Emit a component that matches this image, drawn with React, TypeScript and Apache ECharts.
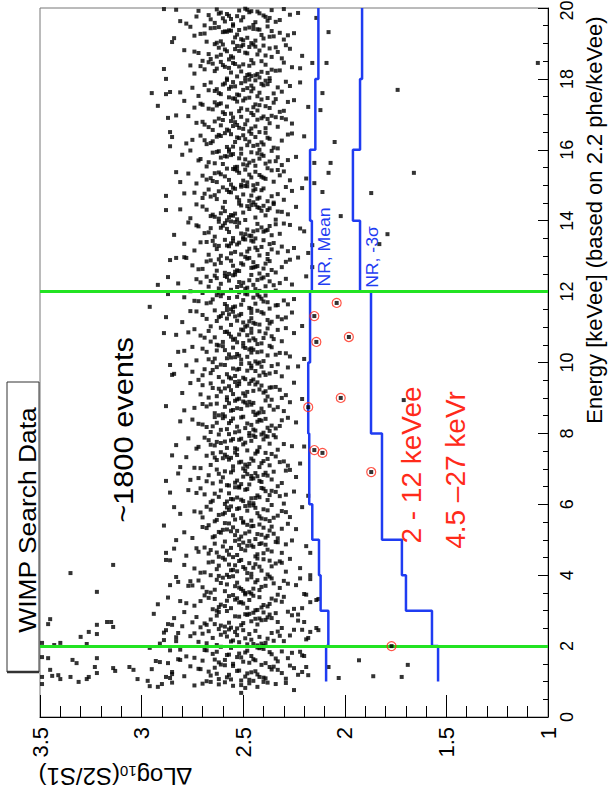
import React, { useEffect, useRef } from 'react';
import * as echarts from 'echarts';

const FONT = '"Liberation Sans", Arial, Helvetica, sans-serif';
const BLUE = '#1f3cf2';
const RED = '#ff2a1a';
const GREEN = '#22e322';

// Dense band of events, in 0.5 keVee slices.
// Each slice: flat pairs [ΔLog10(S2/S1) x100, energy offset inside the slice x100 keVee]
const coreSliceStart = [
  1, 1.5, 2, 2.5, 3, 3.5, 4, 4.5, 5, 5.5, 6, 6.5, 7, 7.5, 8, 8.5, 9, 9.5, 10, 10.5,
  11, 11.5, 12, 12.5, 13, 13.5, 14, 14.5, 15, 15.5, 16, 16.5, 17, 17.5, 18, 18.5, 19, 19.5,
];
const coreSliceEvents = [
  [251,3,237,41,266,17,244,29,229,8,272,36,258,12,241,47,263,22,247,5,233,33,255,44,268,1,246,26,225,38,279,15,252,31,239,9,261,48,243,20,285,27,256,6,235,42,249,14,271,35,231,24,259,46,245,2,264,39,218,18,253,30,240,11,276,43,248,23,262,7,236,34,257,19,227,45,267,28,242,13],
  [262,4,248,37,234,15,257,26,243,46,270,9,226,31,253,19,239,2,281,40,246,22,259,11,231,35,265,28,250,6,242,44,274,17,237,33,255,0,221,24,261,48,245,13,268,38,233,7,252,29,240,42,278,21,247,3,263,34,228,16,256,45,244,10,236,27,269,39,251,18,291,5,241,47,258,25,249,32,264,12],
  [245,6,259,39,238,21,272,12,250,45,227,30,263,3,242,26,255,16,233,41,268,8,247,34,219,19,257,47,240,1,276,28,252,11,236,37,265,23,244,43,230,14,261,32,248,5,283,25,254,40,239,9,270,35,246,18,225,46,258,27,243,2,267,42,235,15,253,31,249,22,262,48,241,7,274,36,256,13,232,29],
  [256,2,242,28,269,14,234,43,251,9,263,36,246,20,228,47,259,5,238,31,275,17,249,40,243,11,266,25,231,1,254,34,240,45,261,8,223,22,248,38,271,3,236,29,257,16,245,44,264,12,252,33,239,24,280,6,247,41,233,18,258,49,244,27,268,10,226,37,253,0,241,23,262,46,250,15,273,32,237,39],
  [248,8,264,33,237,19,255,44,243,2,271,27,230,39,259,13,246,48,251,24,225,5,267,36,240,16,257,41,234,29,262,10,249,46,278,21,244,1,253,35,238,12,269,43,231,25,256,7,242,38,261,17,247,30,220,47,265,4,252,23,236,34,274,14,245,42,258,28,241,9,287,37,250,20,233,45,263,0,254,31],
  [259,5,244,30,270,16,236,41,251,11,228,26,263,37,247,2,255,47,239,20,276,33,242,8,260,43,232,14,253,29,248,38,266,1,224,22,257,45,241,17,272,35,250,6,235,27,262,48,245,12,282,31,239,40,254,19,268,3,230,34,258,24,246,44,264,9,243,36,252,15,237,46,275,21,249,0,261,28,217,39],
  [246,4,262,27,240,45,255,15,231,35,269,8,250,23,237,41,258,1,244,31,274,19,227,46,253,11,265,38,242,24,248,6,234,33,260,49,256,14,279,29,238,2,251,43,245,21,267,36,229,10,257,30,243,47,263,17,236,25,252,40,271,7,247,34,222,20,259,44,241,13,254,28,266,0,232,39,249,18,286,42],
  [253,7,239,36,266,21,247,46,231,13,260,31,244,3,273,26,250,42,236,17,257,8,242,38,269,28,226,48,255,1,248,33,263,14,234,44,251,24,278,5,241,40,258,19,245,30,267,11,229,37,254,47,238,22,262,2,246,34,272,16,233,43,256,27,243,9,264,39,249,20,219,32,259,45,240,12,284,25,252,35],
  [244,2,258,29,235,17,267,41,251,9,240,34,262,22,228,45,254,13,246,38,275,5,237,26,259,47,249,18,231,31,265,7,242,43,256,24,270,36,238,11,252,1,245,39,261,20,224,30,257,46,241,14,268,33,233,4,253,25,248,42,264,10,236,37,279,21,250,48,243,16,260,28,289,40,239,6,255,35,247,23],
  [263,6,248,32,233,18,256,44,241,10,271,27,252,39,237,3,260,22,245,47,227,14,266,35,250,1,243,25,258,41,235,12,274,30,249,45,239,8,262,20,253,37,229,28,246,4,268,43,242,16,257,34,236,48,281,23,251,11,244,40,264,2,231,31,255,19,247,46,270,13,240,36,259,26,221,42,254,7,238,33],
  [250,9,236,38,262,21,245,3,273,32,241,46,256,15,229,27,266,6,248,43,253,19,234,35,259,1,243,25,277,40,238,12,264,30,252,47,246,17,225,36,258,8,269,28,240,44,255,14,232,23,261,39,247,5,286,33,244,18,254,48,237,26,265,10,249,41,230,2,257,31,242,20,271,45,251,13,239,37,218,24],
  [257,3,243,29,268,15,235,42,251,7,262,36,246,22,227,47,254,11,240,33,276,19,249,44,233,1,260,26,244,38,265,9,238,31,253,17,229,45,258,4,248,35,272,24,241,13,256,40,236,20,263,48,247,6,250,28,282,37,242,16,259,43,231,10,267,32,245,23,252,0,239,39,261,14,224,27,255,46,246,30],
  [242,5,258,34,232,19,265,44,249,12,238,28,271,2,253,39,245,23,261,47,228,9,256,31,241,16,268,37,250,1,236,42,263,25,247,14,278,33,243,48,255,7,230,21,259,40,246,29,266,11,239,45,252,18,274,3,234,35,257,26,244,43,222,15,260,30,248,6,285,38,240,22,254,46,237,10,264,32,251,20],
  [254,8,240,33,266,18,247,43,233,4,259,27,244,40,272,12,251,35,237,21,262,47,226,14,256,30,243,1,269,38,249,24,235,45,258,9,246,29,264,16,239,42,253,5,277,36,230,20,257,48,242,11,267,31,248,2,234,39,261,23,245,44,220,13,255,34,250,19,273,7,238,41,263,26,241,47,283,17,252,32],
  [247,1,263,30,238,16,255,42,244,8,270,25,231,37,258,12,250,47,236,22,266,4,243,33,253,19,228,44,261,10,248,28,275,39,240,2,256,35,234,14,264,46,246,24,252,6,239,41,268,18,224,31,259,48,245,11,272,27,242,38,254,3,232,21,260,43,249,15,281,34,237,7,257,29,251,45,265,20,241,36],
  [260,4,246,31,235,17,253,46,242,9,268,26,250,40,230,13,257,35,244,2,274,22,239,43,255,16,248,29,264,7,227,38,252,48,241,20,270,33,245,11,258,44,233,24,262,1,249,37,237,28,279,15,254,42,243,6,266,32,251,19,221,47,259,25,247,39,240,10,263,34,236,45,256,14,288,27,245,36,253,21],
  [249,6,236,30,261,18,243,44,255,11,270,36,232,23,258,2,247,40,240,15,265,28,252,47,229,8,257,33,245,20,276,42,238,4,262,26,250,13,244,38,267,1,234,31,254,45,248,17,259,27,225,43,271,10,241,35,256,22,246,48,263,5,237,29,252,39,280,14,242,24,260,46,231,0,253,34,239,19,266,41],
  [256,5,241,38,270,14,248,27,233,45,262,9,252,32,237,19,259,43,245,2,275,24,228,36,254,12,243,47,265,29,250,7,236,40,258,17,246,34,272,1,240,22,261,44,231,11,253,30,247,48,266,20,223,39,257,8,244,26,278,42,239,15,255,33,249,3,263,37,234,23,251,46,242,13,269,31,284,18,246,41],
  [244,3,259,35,238,20,267,9,250,45,232,27,256,14,246,40,273,6,241,31,262,48,227,17,253,24,247,37,265,1,236,43,258,12,243,29,270,39,251,8,234,22,260,46,248,16,279,33,240,4,255,42,229,26,264,11,245,36,252,19,237,47,268,30,242,0,257,23,249,41,220,10,263,34,246,28,275,44,254,15],
  [253,7,239,32,264,21,246,45,231,10,258,37,243,2,271,26,250,41,235,16,261,48,247,12,225,33,256,23,241,4,267,39,252,29,238,46,260,8,245,18,277,35,233,42,255,14,248,27,263,0,242,38,269,20,229,47,257,31,250,5,236,24,274,44,244,13,259,36,240,19,266,9,251,43,283,28,246,34,254,17],
  [248,4,262,28,236,15,255,43,244,9,270,34,231,22,258,48,250,13,240,38,266,2,246,25,226,41,253,18,261,31,242,7,276,45,238,20,257,36,249,1,233,29,264,47,245,12,252,33,268,23,241,42,256,6,229,27,260,39,247,16,273,44,237,10,254,30,243,46,263,17,251,37,221,3,258,24,246,40,280,14],
  [255,6,241,30,268,17,249,44,234,11,261,37,246,1,274,24,252,48,238,20,258,9,243,41,265,28,228,14,253,35,247,4,270,46,240,22,257,32,233,12,263,40,250,26,237,2,260,45,244,16,279,34,230,25,254,8,248,42,266,19,242,36,256,0,225,29,262,47,251,13,239,39,272,23,245,33,259,15,287,43],
  [242,2,257,31,235,18,264,45,249,8,271,26,240,40,253,13,229,36,261,22,246,47,256,5,237,29,268,42,251,16,243,33,276,1,232,24,259,44,248,11,263,38,226,20,254,48,244,7,266,30,239,15,258,41,250,25,273,35,234,3,255,46,245,19,262,9,241,37,252,27,219,43,267,14,247,32,282,23,238,47],
  [259,3,245,33,270,14,238,42,252,8,264,27,247,45,231,19,256,37,242,1,275,24,249,48,236,11,261,31,244,20,227,40,254,6,268,35,240,15,258,44,250,26,234,4,266,38,246,17,279,47,253,10,239,29,262,41,243,22,257,0,229,34,272,13,248,43,255,23,237,36,263,9,251,30,223,46,245,18,286,39],
  [251,5,237,34,263,20,246,44,254,12,231,27,268,40,242,2,258,30,249,47,274,16,235,37,256,8,244,24,265,43,228,14,253,33,240,45,261,1,247,21,271,39,233,10,257,28,250,48,243,17,279,35,238,6,255,42,225,23,264,31,248,13,259,46,241,26,267,4,252,38,236,19,262,29,245,41,218,9,256,36],
  [246,7,260,36,239,22,254,46,232,13,266,29,250,3,243,41,257,18,272,34,236,9,262,47,248,25,227,38,255,1,241,31,269,15,252,44,245,20,264,5,234,40,258,27,249,12,277,45,238,24,253,33,244,0,267,17,230,42,261,30,247,8,256,48,240,19,273,37,251,14,222,28,259,43,243,23,284,10,237,35],
  [253,4,238,30,265,17,244,45,257,10,231,25,270,40,249,2,242,36,261,21,235,47,255,14,247,33,276,7,240,42,259,27,228,18,252,48,264,11,243,38,250,23,234,3,268,31,246,44,256,16,224,39,262,6,241,28,273,46,254,20,237,35,258,1,248,41,266,13,233,26,251,43,281,32,244,9,260,37,239,15],
  [247,6,262,33,236,19,255,43,243,12,269,26,251,46,230,9,258,37,245,2,274,29,240,41,253,16,226,34,264,22,249,48,238,5,257,31,244,39,270,14,233,25,260,44,252,8,241,36,266,18,248,47,279,27,235,1,254,40,246,21,263,11,229,45,256,30,242,15,267,38,250,24,221,42,259,3,245,35,288,20],
  [256,2,242,29,268,16,249,44,235,10,262,36,246,22,273,5,253,41,239,18,258,47,232,28,265,12,244,38,251,1,277,33,241,24,255,46,227,14,261,31,248,8,236,42,266,20,252,35,243,4,270,27,238,48,257,15,230,39,263,9,247,30,254,45,240,21,283,37,250,13,233,43,259,25,245,0,264,34,219,19],
  [244,5,259,32,237,17,265,42,250,9,241,37,271,24,254,1,233,29,262,46,247,14,256,35,228,21,268,3,243,40,252,26,276,48,239,11,258,31,245,19,263,44,231,7,255,38,249,23,267,15,236,47,253,2,240,33,272,20,246,43,260,10,224,30,251,39,242,25,264,12,257,45,234,18,280,36,248,6,261,28],
  [251,3,238,34,266,19,246,45,255,9,231,26,271,40,243,14,259,47,249,30,235,6,263,37,241,21,257,1,228,43,268,16,252,33,245,11,275,28,239,48,254,22,233,4,261,39,248,13,244,36,265,24,226,46,258,8,250,41,278,18,237,31,256,44,242,0,269,27,253,35,240,15,262,42,247,23,220,38,286,10],
  [258,7,243,35,269,21,236,46,252,12,264,30,247,2,231,40,255,17,240,44,273,26,250,9,238,37,261,19,245,48,226,24,257,4,248,33,267,14,234,42,254,28,242,0,262,38,249,22,277,45,239,11,256,31,244,16,229,36,265,6,251,43,237,25,260,34,246,10,283,47,253,20,241,39,270,29,233,15,255,41],
  [246,4,261,31,237,18,254,44,243,11,270,27,250,39,232,7,258,22,247,47,265,14,228,35,256,2,241,42,263,25,252,9,235,33,274,19,249,45,244,28,259,1,225,40,267,16,253,36,239,23,257,48,248,13,271,30,234,43,260,6,245,20,279,38,242,26,255,45,230,10,264,34,251,17,238,46,262,29,218,21],
  [253,6,240,32,264,16,249,43,235,9,259,37,245,23,272,2,244,46,256,28,231,14,266,40,250,19,238,35,261,7,247,48,275,25,242,11,255,41,227,30,263,21,252,4,237,44,269,33,246,15,258,47,233,26,251,38,281,12,243,1,260,34,248,24,239,45,267,18,254,29,229,42,262,10,241,36,257,22,246,31],
  [249,3,263,29,238,17,255,45,244,10,271,36,232,24,258,1,250,41,241,20,267,47,247,13,226,33,253,7,260,39,236,26,274,15,245,44,257,31,242,4,264,22,230,46,252,35,248,11,269,27,239,40,256,18,222,30,261,48,246,8,276,38,234,23,254,42,243,14,259,34,251,21,237,2,265,43,289,28,247,37],
  [257,5,242,30,267,20,250,46,236,12,262,38,246,3,274,27,253,43,239,16,259,33,231,8,264,48,248,22,244,41,256,14,227,35,270,1,252,29,240,44,261,18,234,39,255,10,279,31,245,47,249,24,237,36,266,6,251,42,243,19,258,28,229,45,263,13,247,40,272,23,241,0,254,34,233,26,260,47,221,15],
  [244,8,259,34,237,19,266,43,251,12,242,39,271,27,255,3,232,30,262,46,248,16,257,37,228,23,268,5,245,41,253,25,276,47,240,14,260,32,246,1,264,44,235,20,256,36,250,9,269,28,238,48,254,17,243,40,274,22,230,11,258,33,247,45,263,2,225,29,252,38,241,24,284,15,249,42,261,6,236,35],
  [255,4,240,29,266,18,248,45,234,11,261,37,245,2,273,26,252,43,238,14,258,33,230,47,264,8,250,24,243,40,256,19,227,31,269,1,247,38,259,12,236,44,253,27,278,6,242,35,260,21,249,48,232,16,267,30,246,41,255,0,239,25,263,46,251,15,223,36,257,28,244,10,272,42,237,22,262,34,283,45],
];

// Sparse events, [ΔLog10(S2/S1), energy keVee]
const lowEnergyCoreEvents = [
  [2.47,0.95],[2.62,0.92],[2.38,0.97],[2.55,0.88],[2.29,0.96],[2.70,0.94],[2.51,0.90],[2.43,0.85],[2.59,0.98],[2.34,0.93],
  [2.66,0.99],[2.49,0.82],[2.85,0.97],[2.74,0.89],[2.40,0.99],
  [2.88,1.13],[2.21,1.27],[2.19,1.41],[2.93,1.58],[2.20,1.72],[2.86,1.88],[2.23,1.19],[2.82,1.63],[2.95,1.35],[2.22,1.84],
  [2.91,2.07],[2.18,2.23],[2.21,2.46],[2.87,2.62],[2.84,2.79],[2.94,2.91],[2.20,2.68],[2.83,2.14],[2.89,2.38],[2.23,2.89],
  [2.92,3.18],[2.19,3.45],[2.86,3.72],[2.22,3.91],[2.81,3.27],
];

const lowEnergyLeftEvents = [
  [3.35,4.06],[3.14,4.29],[3.22,3.53],[3.45,2.76],[3.46,2.62],[3.30,2.26],[3.26,2.40],[3.22,2.60],[3.17,2.68],[3.15,2.68],
  [3.14,2.54],[3.22,2.34],[3.40,2.09],[3.27,2.06],[3.43,2.03],[3.49,2.09],[2.96,1.95],[3.49,1.69],[3.46,1.66],[3.34,1.61],
  [3.32,1.52],[3.22,1.66],[3.23,1.41],[3.22,1.24],[3.45,1.33],[3.44,1.16],[3.41,1.18],[3.40,1.07],[3.35,1.13],[3.49,1.13],
  [3.49,0.93],[3.31,0.99],[3.27,1.07],[3.26,1.13],[3.14,1.38],[3.13,1.30],[3.06,1.41],[3.04,1.33],[3.02,1.07],[2.97,1.02],
  [2.92,0.85],[2.90,0.93],[2.96,0.87],[2.88,2.45],[2.89,2.17],[2.83,3.95],[2.82,2.37],[2.87,1.52],[2.85,1.21],[2.86,1.10],
  [2.81,1.61],[2.79,2.96],[2.77,3.70],[2.85,2.60],[2.51,0.68],[2.25,0.76],
];

const leftTailEvents = [
  [2.95,17.60],[2.92,17.24],[2.88,18.00],[2.88,17.57],[2.86,17.63],[2.85,19.04],[2.81,19.63],[2.89,19.97],[2.87,16.90],[2.86,16.50],
  [2.85,16.36],[2.88,14.30],[2.92,12.19],[2.87,12.41],[2.96,11.57],[2.88,11.28],[2.89,10.83],[2.81,15.09],[2.83,12.95],[2.78,12.95],
  [2.82,10.30],[2.88,6.66],[2.85,9.65],[2.86,9.93],[2.88,4.63],[2.83,4.99],[2.84,5.92],[2.81,7.05],[2.88,4.43],
];

const rightTailEvents = [
  [2.05,16.22],[2.07,15.63],[2.08,15.35],[2.15,15.63],[2.15,15.06],[2.11,14.81],[2.02,14.13],[1.66,15.35],[1.87,14.78],[1.79,13.62],
  [1.83,13.34],[1.74,17.69],[1.05,18.45],[2.08,19.32],[2.09,18.45],[2.11,17.60],[2.12,17.12],[2.14,19.72],[2.16,13.31],[2.16,12.69],
  [1.71,8.94],[2.08,1.41],[2.03,1.10],[1.93,1.60],[1.86,1.15],[1.69,1.47],[1.72,1.13],[2.17,4.63],[2.17,4.00],[2.13,3.33],
  [2.14,2.51],[2.21,3.07],[2.17,3.24],[2.17,2.40],[2.13,2.45],[2.14,3.30],[2.16,18.45],[2.22,17.90],[2.20,13.70],
];

// Events inside the 2-12 keVee acceptance window below the NR mean (red circles)
const acceptedEvents = [
  [2.04,11.68],[2.15,11.31],[2.14,10.58],[1.98,10.72],[2.02,9.00],[2.18,8.74],[2.15,7.53],[2.11,7.45],[1.87,6.91],[1.77,2.00],
];

// Nuclear-recoil band: bin edges (keVee) and values
const meanEdges = [1, 2, 3, 4, 5, 6, 8, 10, 12, 14, 16, 18, 20];
const meanValues = [2.092, 2.081, 2.119, 2.127, 2.16, 2.175, 2.18, 2.171, 2.162, 2.171, 2.145, 2.13];
const sigmaEdges = [1, 2, 3, 4, 5, 8, 12, 14, 16, 18, 20];
const sigmaValues = [1.541, 1.571, 1.699, 1.719, 1.817, 1.871, 1.925, 1.96, 1.925, 1.915];

const windowEdges = [2, 12];

function sliceEvents(): number[][] {
  const out: number[][] = [];
  coreSliceEvents.forEach((raw, s) => {
    const start = coreSliceStart[s];
    for (let i = 0; i + 1 < raw.length; i += 2) out.push([raw[i] / 100, start + raw[i + 1] / 100]);
  });
  return out;
}

function stepLine(edges: number[], values: number[]): number[][] {
  const pts: number[][] = [];
  values.forEach((v, i) => {
    pts.push([v, edges[i]]);
    pts.push([v, edges[i + 1]]);
  });
  return pts;
}

export default function App() {
  const ref = useRef<HTMLDivElement>(null);

  useEffect(() => {
    document.body.style.margin = '0';
    if (!ref.current) return;
    const chart = echarts.init(ref.current, null, { renderer: 'svg' });

    const allEvents = [
      ...sliceEvents(),
      ...lowEnergyCoreEvents,
      ...lowEnergyLeftEvents,
      ...leftTailEvents,
      ...rightTailEvents,
    ];

    const rotText = (text: string, x: number, y: number, size: number, color: string, scale = 1) => ({
      type: 'text',
      x,
      y,
      rotation: Math.PI / 2,
      scaleX: scale,
      z: 20,
      style: {
        text,
        fontSize: size,
        fontFamily: FONT,
        fill: color,
        align: 'center',
        verticalAlign: 'middle',
        textAlign: 'center',
        textVerticalAlign: 'middle',
      },
    });

    chart.setOption({
      animation: false,
      backgroundColor: '#fff',
      grid: {
        left: 40,
        right: 60,
        top: 8,
        bottom: 83,
        show: true,
        borderColor: '#777',
        borderWidth: 1,
        containLabel: false,
        outerBoundsMode: 'none',
      },
      xAxis: {
        type: 'value',
        min: 1,
        max: 3.5,
        interval: 0.5,
        inverse: true,
        position: 'bottom',
        axisLine: { show: true, onZero: false, lineStyle: { color: '#000', width: 1 } },
        axisTick: { show: true, inside: true, length: 22, lineStyle: { color: '#000', width: 1 } },
        minorTick: { show: true, splitNumber: 5, length: 11, lineStyle: { color: '#000', width: 1 } },
        splitLine: { show: false },
        axisLabel: {
          rotate: 90,
          fontSize: 22,
          color: '#000',
          fontFamily: FONT,
          margin: 10,
          showMinLabel: true,
          showMaxLabel: true,
        },
      },
      yAxis: {
        type: 'value',
        min: 0,
        max: 20,
        interval: 2,
        position: 'right',
        axisLine: { show: true, onZero: false, lineStyle: { color: '#000', width: 1 } },
        axisTick: { show: true, inside: true, length: 10, lineStyle: { color: '#000', width: 1 } },
        minorTick: { show: true, splitNumber: 4, length: 5, lineStyle: { color: '#000', width: 1 } },
        splitLine: { show: false },
        axisLabel: {
          rotate: 90,
          fontSize: 18,
          color: '#000',
          fontFamily: FONT,
          margin: 10,
          showMinLabel: true,
          showMaxLabel: true,
          formatter: (v: number) => (v === 20 ? '{t|20}' : String(v)),
          rich: {
            t: { fontSize: 18, fontFamily: FONT, color: '#000', padding: [0, 5, 0, 0] },
          },
        },
      },
      series: [
        {
          type: 'scatter',
          name: 'events',
          data: allEvents,
          symbol: 'rect',
          symbolSize: 4,
          itemStyle: { color: '#000' },
          silent: true,
          z: 2,
        },
        {
          type: 'line',
          name: 'NR, Mean',
          data: stepLine(meanEdges, meanValues),
          showSymbol: false,
          symbol: 'none',
          lineStyle: { color: BLUE, width: 2.5 },
          silent: true,
          z: 4,
          markLine: {
            silent: true,
            symbol: ['none', 'none'],
            label: { show: false },
            lineStyle: { color: GREEN, width: 3, type: 'solid' },
            data: windowEdges.map((e) => ({ yAxis: e })),
          },
        },
        {
          type: 'line',
          name: 'NR, -3σ',
          data: stepLine(sigmaEdges, sigmaValues),
          showSymbol: false,
          symbol: 'none',
          lineStyle: { color: BLUE, width: 2.5 },
          silent: true,
          z: 4,
        },
        {
          type: 'scatter',
          name: 'accepted dots',
          data: acceptedEvents,
          symbol: 'rect',
          symbolSize: 4,
          itemStyle: { color: '#000' },
          silent: true,
          z: 5,
        },
        {
          type: 'scatter',
          name: 'accepted',
          data: acceptedEvents,
          symbol: 'circle',
          symbolSize: 9,
          itemStyle: { color: 'rgba(0,0,0,0)', borderColor: RED, borderWidth: 1.2 },
          silent: true,
          z: 6,
        },
      ],
      graphic: [
        {
          type: 'rect',
          shape: { x: 7, y: 382, width: 32, height: 290 },
          style: { fill: '#fff', stroke: '#333', lineWidth: 1 },
          z: 15,
        },
        {
          type: 'line',
          shape: { x1: 7, y1: 672, x2: 39, y2: 672 },
          style: { stroke: '#333', lineWidth: 2.5 },
          z: 16,
        },
        rotText('WIMP Search Data', 27, 520, 24, '#000', 1.1),
        rotText('~1800 events', 123, 430, 28, '#000', 1.1),
        rotText('2 - 12 keVee', 411, 465, 28, RED),
        rotText('4.5 –27 keVr', 455, 470, 28, RED),
        rotText('NR, Mean', 325, 247, 16, BLUE, 1.1),
        rotText('NR, -3σ', 373, 257, 16, BLUE, 1.1),
        rotText('Energy [keVee] (based on 2.2 phe/keVee)', 594, 220, 22, '#000'),
        {
          type: 'text',
          x: 115,
          y: 776,
          rotation: Math.PI,
          z: 20,
          style: {
            text: '{m|∆Log}{s|10}{m|(S2/S1)}',
            rich: {
              m: { fontSize: 24, fontFamily: FONT, fill: '#000' },
              s: { fontSize: 15, fontFamily: FONT, fill: '#000', verticalAlign: 'bottom' },
            },
            align: 'center',
            verticalAlign: 'middle',
            textAlign: 'center',
            textVerticalAlign: 'middle',
          },
        },
      ],
    });

    return () => {
      chart.dispose();
    };
  }, []);

  return <div ref={ref} style={{ width: 608, height: 800 }} />;
}
